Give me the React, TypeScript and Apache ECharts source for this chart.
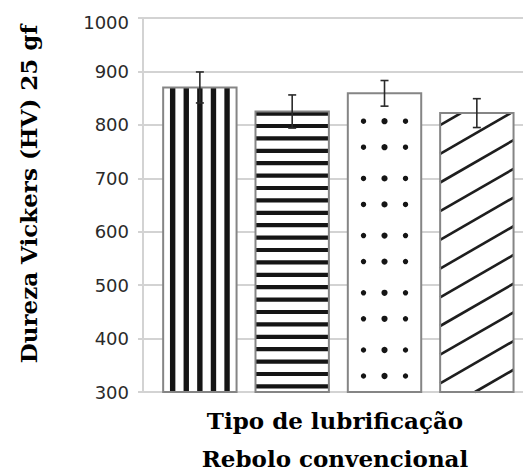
import React, { useEffect, useRef } from "react";
import * as echarts from "echarts";

const categories = ["Lubrificação A", "Lubrificação B", "Lubrificação C", "Lubrificação D"];
const hardness = [870, 825, 859, 822];
const errors = [29, 31, 24, 27];
const yTicks = [300, 400, 500, 600, 700, 800, 900, 1000];
const yTitle = "Dureza Vickers (HV) 25 gf";
const xTitle1 = "Tipo de lubrificação";
const xTitle2 = "Rebolo convencional";

const Y_MIN = yTicks[0];
const Y_MAX = yTicks[yTicks.length - 1];

export default function App() {
  const ref = useRef<HTMLDivElement>(null);
  useEffect(() => {
    document.body.style.margin = "0";
    const chart = echarts.init(ref.current!, null, { renderer: "svg" });
    const grey = "#d3d3d3";
    const border = "#858585";
    const dark = "#151515";

    const barData = categories.map((_, i) => [i, hardness[i]]);
    const errData = categories.map((_, i) => [i, hardness[i], errors[i]]);

    const renderBar = (params: any, api: any) => {
      const i = api.value(0);
      const v = api.value(1);
      const top = api.coord([i, v]);
      const base = api.coord([i, Y_MIN]);
      const band = api.size([1, 0])[0];
      const bw = band * 0.795;
      const cx = top[0];
      const x0 = cx - bw / 2;
      const x1 = cx + bw / 2;
      const y0 = top[1];
      const y1 = base[1];
      const h = y1 - y0;
      const ch: any[] = [];
      ch.push({ type: "rect", shape: { x: x0, y: y0, width: bw, height: h }, style: { fill: "#fff" } });
      if (i === 0) {
        for (let k = -2; k <= 2; k++) {
          ch.push({ type: "rect", shape: { x: cx + k * 13.6 - 2.7, y: y0, width: 5.4, height: h }, style: { fill: dark } });
        }
      } else if (i === 1) {
        for (let y = y0; y < y1; y += 12.4) {
          const hh = Math.min(4.2, y1 - y);
          ch.push({ type: "rect", shape: { x: x0, y: y, width: bw, height: hh }, style: { fill: dark } });
        }
      } else if (i === 2) {
        for (let k = 0; k < 20; k++) {
          const yb = y1 - 16 - 57.2 * k;
          [yb, yb - 26].forEach((yy) => {
            if (yy > y0 + 8) {
              [-21, 0, 21].forEach((dx) => {
                ch.push({ type: "circle", shape: { cx: cx + dx, cy: yy, r: dx === 0 ? 3.1 : 2.7 }, style: { fill: dark } });
              });
            }
          });
        }
      } else {
        const t = 0.577;
        const sp = 28.7;
        for (let k = -4; k < 30; k++) {
          const yl = y1 - 8.6 - sp * k;
          const xa = Math.max(x0, x0 + (yl - y1) / t);
          const xb = Math.min(x1, x0 + (yl - y0) / t);
          if (xb > xa + 0.5) {
            ch.push({
              type: "line",
              shape: { x1: xa, y1: yl - t * (xa - x0), x2: xb, y2: yl - t * (xb - x0) },
              style: { stroke: "#1e1e1e", lineWidth: 2.6 },
            });
          }
        }
      }
      ch.push({ type: "rect", shape: { x: x0, y: y0, width: bw, height: h }, style: { fill: "none", stroke: border, lineWidth: 2 } });
      return { type: "group", children: ch };
    };

    const renderErr = (params: any, api: any) => {
      const i = api.value(0);
      const v = api.value(1);
      const e = api.value(2);
      const hi = api.coord([i, v + e]);
      const lo = api.coord([i, v - e]);
      const c = 4;
      const st = { stroke: "#2a2a2a", lineWidth: 1.6 };
      return {
        type: "group",
        children: [
          { type: "line", shape: { x1: hi[0], y1: hi[1], x2: lo[0], y2: lo[1] }, style: st },
          { type: "line", shape: { x1: hi[0] - c, y1: hi[1], x2: hi[0] + c, y2: hi[1] }, style: st },
          { type: "line", shape: { x1: lo[0] - c, y1: lo[1], x2: lo[0] + c, y2: lo[1] }, style: st },
        ],
      };
    };

    const labelFont = { fontFamily: "DejaVu Sans", fontSize: 18, color: "#2a2a2a" };

    chart.setOption({
      animation: false,
      grid: [
        { left: 143, right: -12, top: 18, bottom: 80 },
        { left: 153.7, right: -7.5, top: 18, bottom: 80 },
      ],
      xAxis: [
        { type: "value", gridIndex: 0, show: false, min: 0, max: 1 },
        {
          type: "category",
          gridIndex: 1,
          data: categories,
          axisLine: { show: false },
          axisTick: { show: false },
          axisLabel: { show: false },
        },
      ],
      yAxis: [
        {
          type: "value",
          gridIndex: 0,
          min: Y_MIN,
          max: Y_MAX,
          interval: 100,
          axisLine: { show: true, lineStyle: { color: grey, width: 2 } },
          axisTick: { show: true, length: 5, lineStyle: { color: grey, width: 2 } },
          splitLine: { show: true, lineStyle: { color: grey, width: 2 } },
          axisLabel: {
            ...labelFont,
            margin: 14,
            formatter: (val: number) => (val === Y_MAX ? "{t|" + val + "}" : String(val)),
            rich: { t: { ...labelFont, padding: [8, 0, 0, 0] } },
          },
        },
        { type: "value", gridIndex: 1, min: Y_MIN, max: Y_MAX, show: false },
      ],
      graphic: [
        {
          type: "text",
          x: 28,
          y: 194,
          rotation: Math.PI / 2,
          style: {
            text: yTitle,
            font: "bold 23px 'DejaVu Serif'",
            fill: "#000",
            align: "center",
            verticalAlign: "middle",
          },
        },
        {
          type: "text",
          x: 335,
          y: 420,
          style: { text: xTitle1, font: "bold 23px 'DejaVu Serif'", fill: "#000", align: "center", verticalAlign: "middle" },
        },
        {
          type: "text",
          x: 335,
          y: 458,
          style: { text: xTitle2, font: "bold 23px 'DejaVu Serif'", fill: "#000", align: "center", verticalAlign: "middle" },
        },
      ],
      series: [
        { type: "custom", xAxisIndex: 1, yAxisIndex: 1, data: barData, renderItem: renderBar, z: 2 },
        { type: "custom", xAxisIndex: 1, yAxisIndex: 1, data: errData, renderItem: renderErr, z: 3 },
      ],
    });
    return () => chart.dispose();
  }, []);
  return <div ref={ref} style={{ width: 523, height: 472 }} />;
}
